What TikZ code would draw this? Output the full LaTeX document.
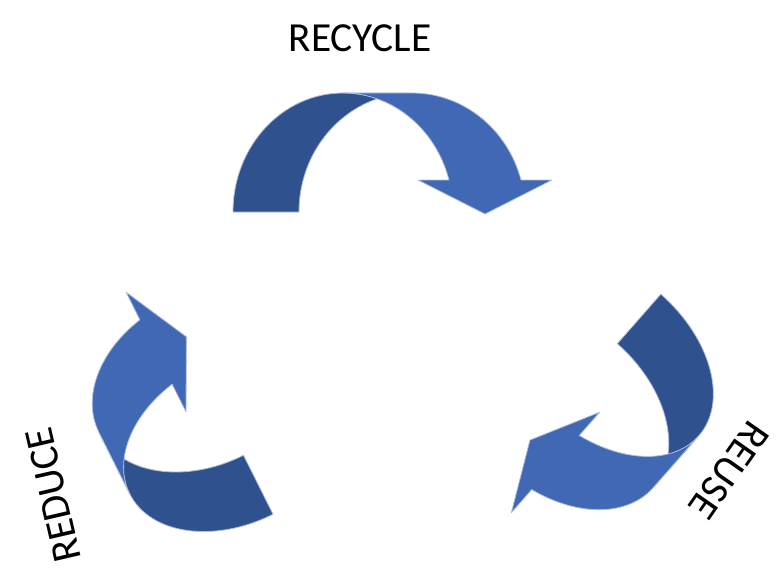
\documentclass[tikz,border=0pt]{standalone}
\usepackage{fontspec}
\setmainfont{Carlito}
\usepackage{tikz}
\definecolor{bandback}{RGB}{47,82,143}
\definecolor{bandfront}{RGB}{65,104,181}
\definecolor{bandedge}{RGB}{176,190,218}
\tikzset{
  back band/.style={fill=bandback, draw=bandedge, line width=0.6pt, line join=round},
  front band/.style={fill=bandfront, draw=bandedge, line width=0.6pt, line join=round},
  word/.style={inner sep=0pt, font=\fontsize{31}{37}\selectfont}
}
% curved band arrow: #1,#2 head base, #3 turn, #4 foot span, #5 arch radius
\newcommand{\bentarrow}[5]{%
  \begin{scope}[shift={(#1,#2)}, rotate=#3]
    \pgfmathsetmacro{\al}{asin(32/#5)}
    \pgfmathsetmacro{\ea}{360-\al}
    \pgfmathsetmacro{\ra}{(#4-3)/(1+cos(\al))}
    \pgfmathsetmacro{\rb}{(#4+3)/(1+cos(\al))}
    \pgfmathsetmacro{\cb}{-#4+33+\rb}
    \pgfmathsetmacro{\ty}{32-#5}
    \fill[back band] (-#4-33,32) arc[start angle=180, end angle=270, x radius=\ra, y radius=#5]
      -- (\cb,\ty) arc[start angle=270, end angle=180, x radius=\rb, y radius=#5] -- cycle;
    \fill[front band] (\cb,\ty) arc[start angle=270, end angle=\ea, x radius=\rb, y radius=#5]
      -- (67,0) -- (0,34) -- (-67,0) -- (-36,0)
      arc[start angle=\ea, end angle=270, x radius=\ra, y radius=#5] -- cycle;
  \end{scope}}

\begin{document}
\begin{tikzpicture}[x=0.75pt,y=0.75pt,yscale=-1,xscale=1]
\useasboundingbox (0,0) rectangle (781,579);
%Shape: Curved Arrow [recycle]
\bentarrow{485}{180}{0}{219}{119}
%Shape: Curved Arrow [reduce]
\bentarrow{156}{352}{-116.6}{164.5}{119}
%Shape: Curved Arrow [reuse]
\bentarrow{555.5}{462.5}{131.3}{163}{122}

% Text Node
\draw (360,38.5) node [word] (recycle) {RECYCLE};
% Text Node
\draw (53,495) node [word, rotate=103] (reduce) {REDUCE};
% Text Node
\draw (729,470) node [word, rotate=-125] (reuse) {REUSE};
\end{tikzpicture}
\end{document}
